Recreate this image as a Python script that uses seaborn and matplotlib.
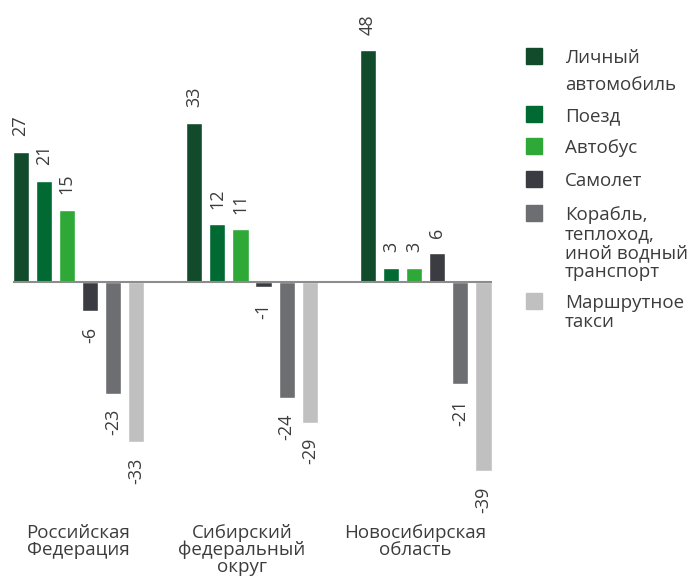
import numpy as np
import pandas as pd
import matplotlib
matplotlib.use('Agg')
import matplotlib.pyplot as plt
import matplotlib.transforms as mtransforms
from matplotlib.patches import Rectangle
import seaborn as sns

sns.set_style('white')
plt.rcParams['font.family'] = ['Open Sans', 'DejaVu Sans']

regions = ['Российская\nФедерация', 'Сибирский\nфедеральный\nокруг',
           'Новосибирская\nобласть']
modes = ['Личный\nавтомобиль', 'Поезд', 'Автобус', 'Самолет',
         'Корабль,\nтеплоход,\nиной водный\nтранспорт', 'Маршрутное\nтакси']
car = [27, 33, 48]
train = [21, 12, 3]
bus = [15, 11, 3]
plane = [-6, -1, 6]
ship = [-23, -24, -21]
taxi = [-33, -29, -39]
colors = ['#114b2b', '#006a32', '#2ea836', '#3b3c41', '#6d6e72', '#bfc0bf']

TEXT = '#3c3c3c'

rows = []
for mode, vals in zip(modes, [car, train, bus, plane, ship, taxi]):
    for region, v in zip(regions, vals):
        rows.append({'region': region, 'mode': mode, 'value': v})
df = pd.DataFrame(rows)

W, H = 689, 576
fig = plt.figure(figsize=(W / 100, H / 100), dpi=100)
ax = fig.add_axes([12.5 / W, 1 - 471 / H, 479 / W, 421 / H])

sns.barplot(data=df, x='region', y='value', hue='mode', order=regions,
            hue_order=modes, palette=colors, width=0.8, gap=0.3,
            saturation=1, legend=False, ax=ax)

for cont in ax.containers:
    ax.bar_label(cont, fmt='{:.0f}', rotation=90, padding=11,
                 fontsize=13, color=TEXT)

ax.set_xlim(-0.38, 2.38)
ax.set_ylim(-39, 48)
ax.axhline(0, color='#8c8c8c', lw=1.5, zorder=5)
sns.despine(ax=ax, left=True, bottom=True)
ax.set_yticks([])
ax.set_xlabel('')
ax.set_ylabel('')
ax.tick_params(axis='x', length=0, pad=38, labelsize=13.5, labelcolor=TEXT)
# the 2nd and 3rd region names sit a little left of their groups
for i, lbl in enumerate(ax.get_xticklabels()):
    lbl.set_linespacing(0.92)
    if i > 0:
        shift = mtransforms.ScaledTranslation(-0.1, 0, fig.dpi_scale_trans)
        lbl.set_transform(lbl.get_transform() + shift)

# legend, one text per line so the line gaps can follow the reference
baselines = [63, 121, 153, 186, 220, 308]
line_gap = [27, 19, 19, 19, 19, 19]
for mode, col, base, gap in zip(modes, colors, baselines, line_gap):
    fig.patches.append(Rectangle((526 / W, 1 - (base + 1) / H), 16 / W, 16 / H,
                                 transform=fig.transFigure, color=col))
    for i, line in enumerate(mode.split('\n')):
        fig.text(565 / W, 1 - (base + i * gap) / H, line, fontsize=13.5,
                 color=TEXT, va='baseline', ha='left')

fig.savefig('out.png', dpi=100)
